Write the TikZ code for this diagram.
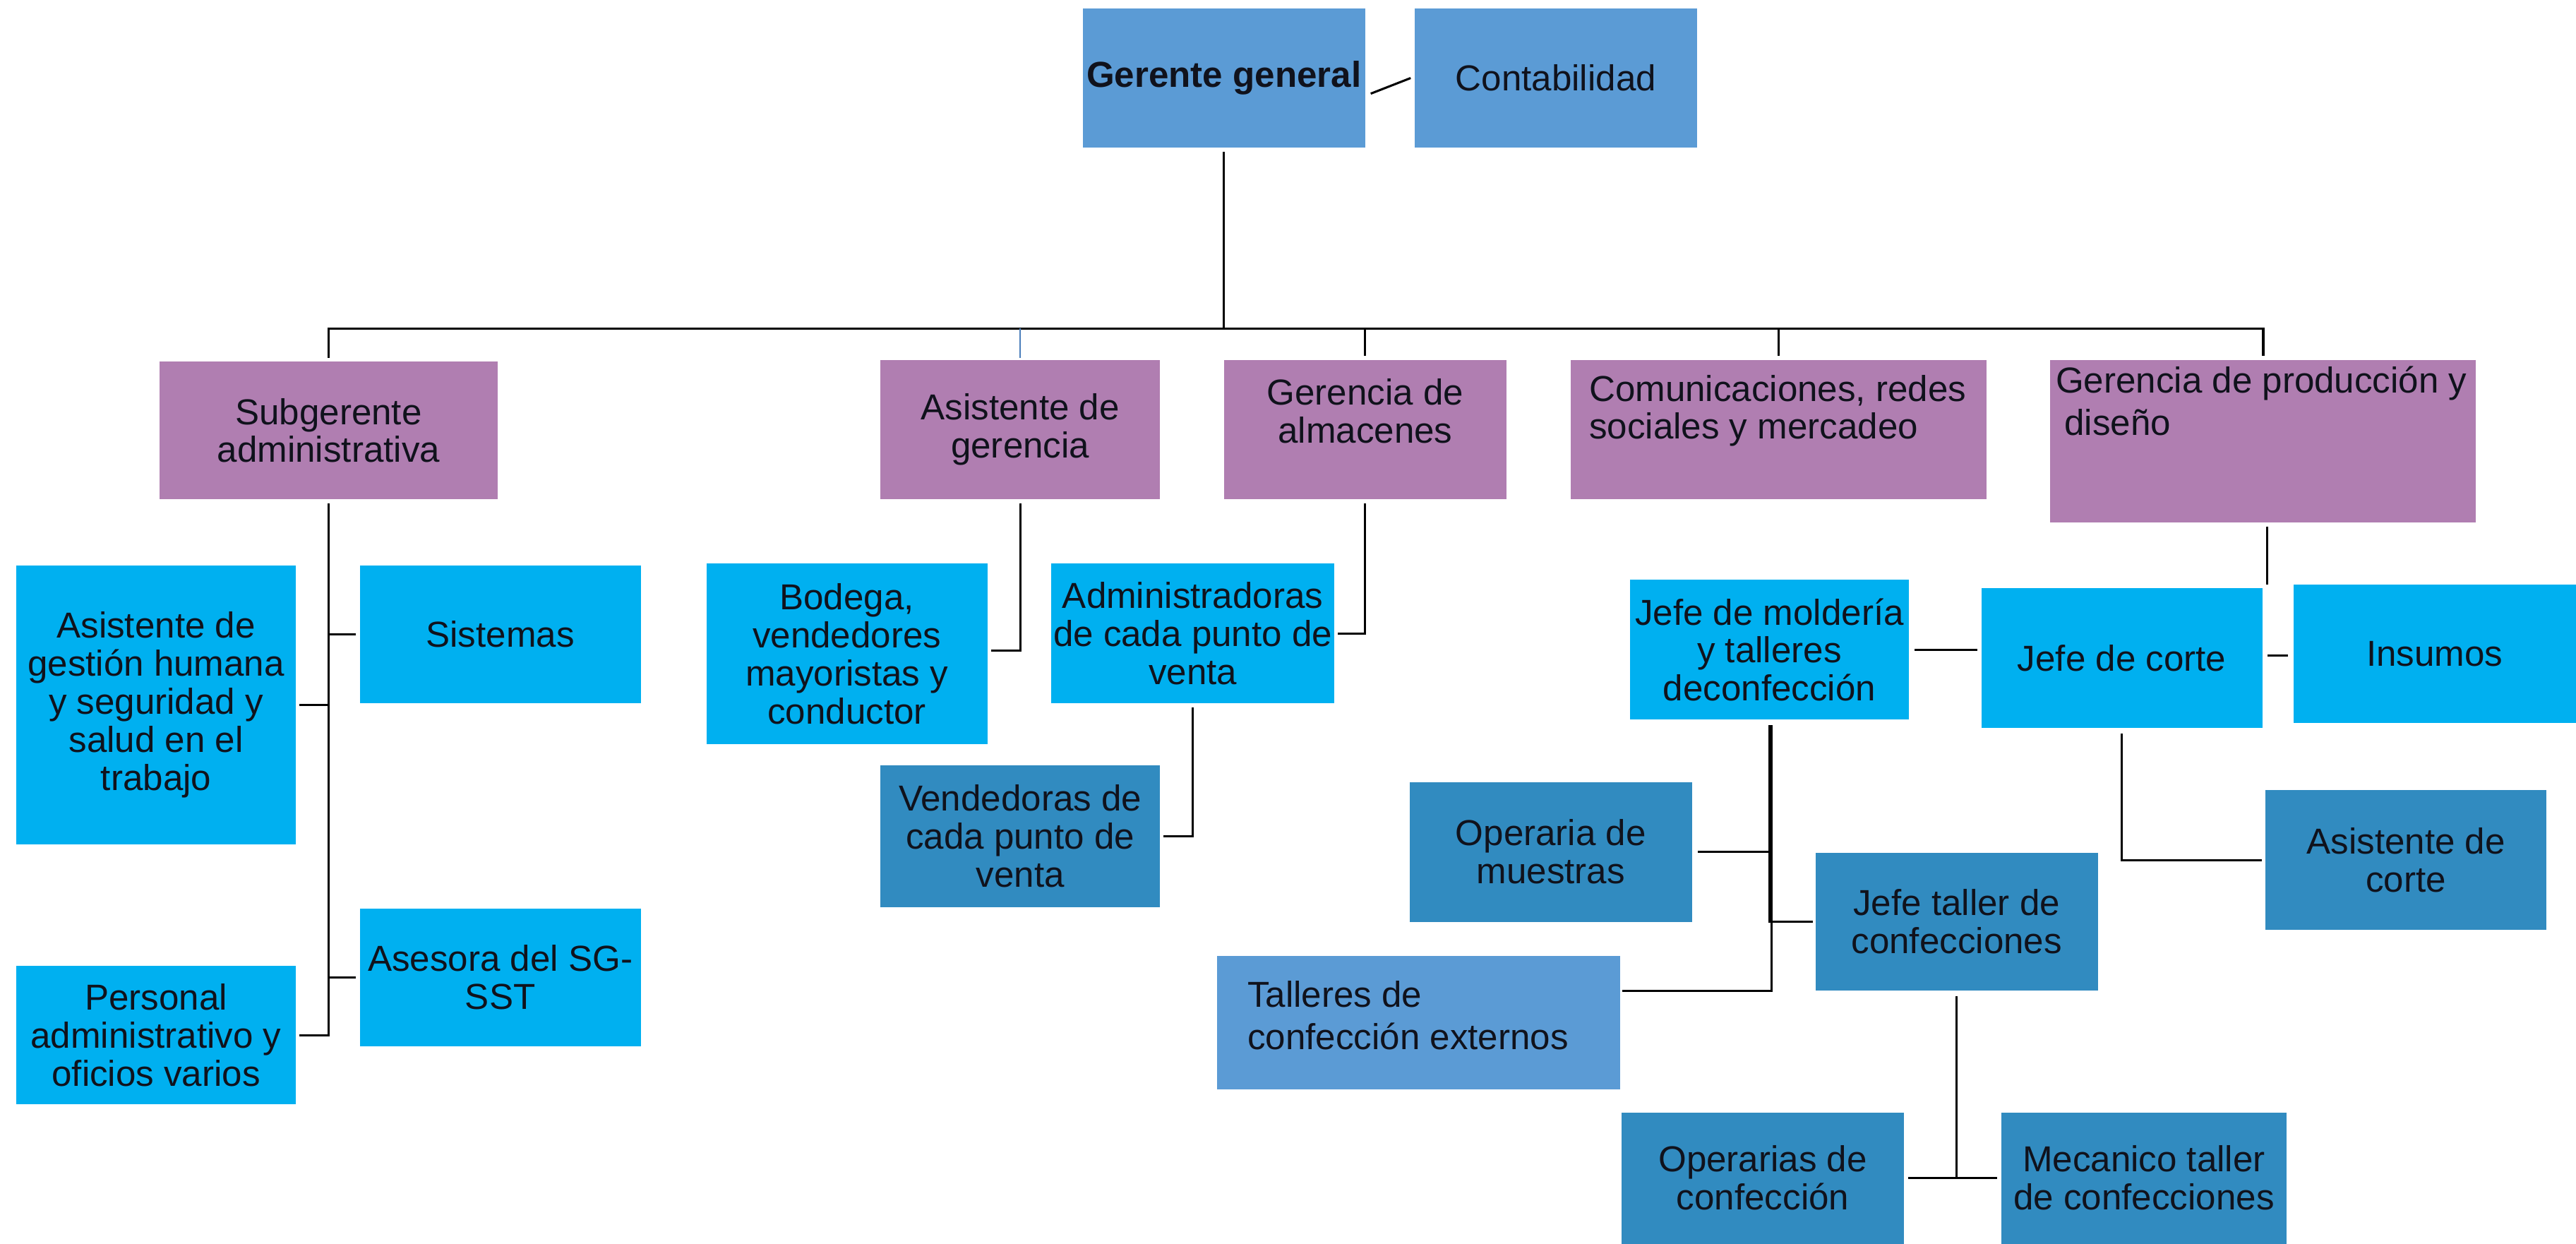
\documentclass[tikz,border=0pt]{standalone}
\usepackage{fontspec}
\setmainfont{Liberation Sans}
\usetikzlibrary{calc}
\definecolor{cblue}{HTML}{5B9BD5}
\definecolor{cpurp}{HTML}{B07EB1}
\definecolor{ccyan}{HTML}{00B0F0}
\definecolor{cdark}{HTML}{318BC0}
\definecolor{ctext}{HTML}{10121C}
\definecolor{cline}{HTML}{4A7EBB}
\newcommand{\orgbox}[7]{\node[#1, minimum width={(#4-#2)*0.02cm}, minimum height={(#5-#3)*0.02cm}] (#6) at ({(#2+#4)/2},{(#3+#5)/2}) {#7};}
\begin{document}
\begin{tikzpicture}[x=0.02cm, y=-0.02cm,
  font=\fontsize{12.5}{13.2}\selectfont,
  box/.style={rectangle, inner sep=0pt, align=center, text=ctext},
  bluebox/.style={box, fill=cblue},
  purpbox/.style={box, fill=cpurp},
  cyanbox/.style={box, fill=ccyan},
  darkbox/.style={box, fill=cdark},
  txt/.style={inner sep=0pt, text=ctext},
  conn/.style={draw=black, line width=0.75pt},
  busline/.style={draw=black, line width=0.9pt}]
\useasboundingbox (0,0) rectangle (1568,757);
\fill[white] (0,0) rectangle (1568,757);

% top
\orgbox{bluebox}{659}{5}{831}{90}{gg}{\textbf{Gerente general}}
\orgbox{bluebox}{861}{5}{1033}{90}{cont}{Contabilidad}

% second level
\orgbox{purpbox}{97}{220}{303}{304}{sub}{Subgerente\\administrativa}
\orgbox{purpbox}{536}{219}{706}{304}{asg}{Asistente de\\gerencia}
\orgbox{purpbox}{745}{219}{917}{304}{galm}{}
\node[txt, align=center] (galmt) at (831,250) {Gerencia de\\almacenes};
\orgbox{purpbox}{956}{219}{1209}{304}{com}{}
\node[txt, align=left, anchor=west] (comt) at (967,250) {Comunicaciones, redes\\sociales y mercadeo};
\orgbox{purpbox}{1248}{219}{1507}{318}{gpd}{}
\node[txt, align=left, anchor=west] (gpdt) at (1251,244) {Gerencia de producción y\\[1.5pt]\hspace{3pt}diseño};

% subgerente branch
\orgbox{cyanbox}{219}{344}{390}{428}{sis}{Sistemas}
\orgbox{cyanbox}{10}{344}{180}{514}{agh}{Asistente de\\gestión humana\\y seguridad y\\salud en el\\trabajo}
\orgbox{cyanbox}{219}{553}{390}{637}{ase}{Asesora del SG-\\SST}
\orgbox{cyanbox}{10}{588}{180}{672}{per}{Personal\\administrativo y\\oficios varios}

% asistente / almacenes branch
\orgbox{cyanbox}{430}{343}{601}{453}{bod}{Bodega,\\vendedores\\mayoristas y\\conductor}
\orgbox{cyanbox}{640}{343}{812}{428}{adm}{Administradoras\\de cada punto de\\venta}
\orgbox{darkbox}{536}{466}{706}{552}{ven}{Vendedoras de\\cada punto de\\venta}

% production branch
\orgbox{cyanbox}{992}{353}{1162}{438}{jm}{Jefe de moldería\\y talleres\\deconfección}
\orgbox{cyanbox}{1206}{358}{1377}{443}{jc}{Jefe de corte}
\orgbox{cyanbox}{1396}{356}{1568}{440}{ins}{Insumos}
\orgbox{darkbox}{1379}{481}{1550}{566}{ac}{Asistente de\\corte}
\orgbox{darkbox}{858}{476}{1030}{561}{om}{Operaria de\\muestras}
\orgbox{darkbox}{1105}{519}{1277}{603}{jt}{Jefe taller de\\confecciones}
\orgbox{bluebox}{741}{582}{986}{663}{tal}{}
\node[txt, align=left, anchor=west] (talt) at (759,618) {Talleres de\\[1.5pt]confección externos};
\orgbox{darkbox}{987}{677}{1159}{757}{oc}{Operarias de\\confección}
\orgbox{darkbox}{1218}{677}{1392}{757}{mec}{Mecanico taller\\de confecciones}

% connectors
\coordinate (busy) at (0,200);
\draw[conn] ([xshift=0.06cm,yshift=-0.19cm]gg.east) -- ([xshift=-0.04cm]cont.west);
\draw[conn] ([yshift=-0.04cm]gg.south) -- (gg.south |- busy);
\draw[busline] ([yshift=0.04cm]sub.north) |- (gpd.north |- busy) -- ([yshift=0.04cm]gpd.north);
\draw[conn] ([yshift=0.04cm]galm.north) -- (galm.north |- busy);
\draw[conn] ([yshift=0.04cm]com.north) -- (com.north |- busy);
\draw[draw=cline, line width=0.6pt] ([yshift=0.02cm]asg.north) -- (asg.north |- busy);

\draw[conn] ([yshift=-0.04cm]sub.south) |- ([xshift=0.04cm]per.east);
\draw[conn] ([xshift=-0.04cm]sis.west) -- (sis.west -| sub.south);
\draw[conn] ([xshift=0.04cm]agh.east) -- (agh.east -| sub.south);
\draw[conn] ([xshift=-0.04cm]ase.west) -- (ase.west -| sub.south);

\draw[conn] ([yshift=-0.04cm]asg.south) |- ([xshift=0.04cm,yshift=0.04cm]bod.east);
\draw[conn] ([yshift=-0.04cm]galm.south) |- ([xshift=0.04cm]adm.east);
\draw[conn] ([yshift=-0.04cm]adm.south) |- ([xshift=0.04cm]ven.east);

\draw[conn] ([xshift=0.05cm,yshift=-0.04cm]gpd.south) -- ([xshift=0.05cm,yshift=0.04cm]gpd.south |- jc.north);
\draw[conn] ([xshift=0.06cm,yshift=0.03cm]jc.east) -- ([xshift=-0.06cm,yshift=0.03cm]jc.east -| ins.west);
\draw[conn] ([xshift=0.06cm]jm.east) -- ([xshift=-0.04cm]jm.east -| jc.west);
\draw[conn] ([yshift=-0.06cm]jc.south) |- ([xshift=-0.04cm]ac.west);
\draw[conn] ([yshift=-0.06cm]jm.south) |- ([xshift=-0.02cm]jt.west);
\draw[conn] ([xshift=0.06cm]om.east) -- (om.east -| jm.south);
\draw[conn] ([xshift=0.02cm,yshift=0.39cm]tal.east) -| ([xshift=0.03cm,yshift=-0.06cm]jm.south);
\draw[conn] ([yshift=-0.06cm]jt.south) -- (jt.south |- oc.east);
\draw[conn] ([xshift=0.04cm]oc.east) -- ([xshift=-0.04cm]mec.west);
\end{tikzpicture}
\end{document}
